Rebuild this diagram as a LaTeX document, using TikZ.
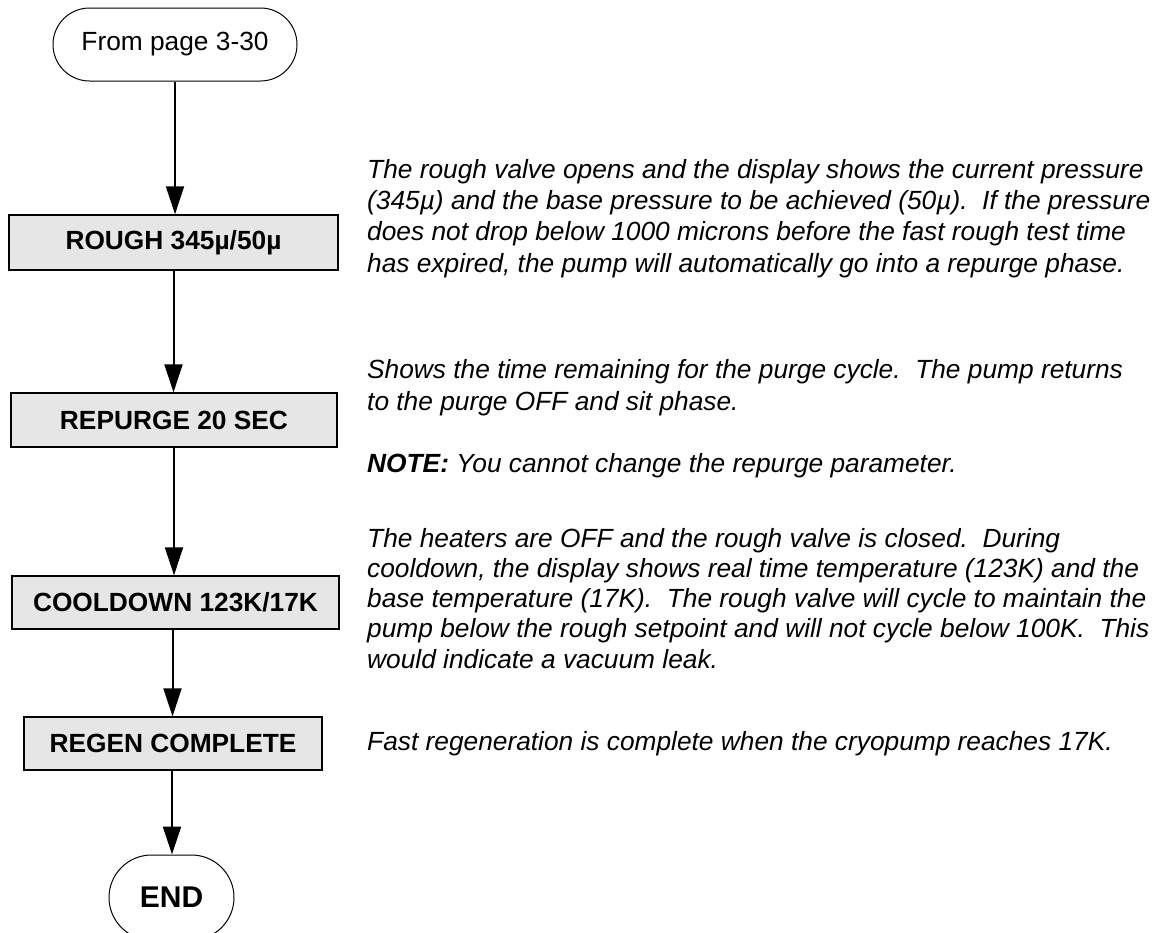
\documentclass[tikz,border=0pt]{standalone}
\usepackage{fontspec}
\setmainfont{Liberation Sans}
\usetikzlibrary{arrows.meta,shapes.misc}
\definecolor{boxgray}{RGB}{230,230,230}
\begin{document}
\begin{tikzpicture}[x=1pt,y=-1pt,
  stepbox/.style={draw, line width=1.3pt, fill=boxgray, minimum width=328pt, minimum height=55pt, inner sep=0pt, font=\fontsize{26.3}{31}\selectfont\bfseries},
  term/.style={draw, line width=1pt, rounded rectangle, inner sep=0pt},
  flow/.style={line width=2pt, -{Triangle[length=28pt,width=18pt]}},
  note/.style={anchor=base west, align=left, inner sep=0pt, font=\fontsize{26.3}{31.3}\selectfont\itshape}]
\useasboundingbox (0,0) rectangle (1155,932);
\clip (0,0) rectangle (1155,932);

\node[term, minimum width=244pt, minimum height=73pt, font=\fontsize{26.3}{31}\selectfont] (start) at (175,44.5) {From page 3-30};
\node[stepbox, minimum width=329pt] (rough) at (173.5,242.5) {ROUGH 345µ/50µ};
\node[stepbox, minimum width=326pt, minimum height=54pt] (repurge) at (174,420) {REPURGE 20 SEC};
\node[stepbox, minimum width=327pt, minimum height=53pt] (cool) at (175.5,602.5) {COOLDOWN 123K/17K};
\node[stepbox, minimum width=298pt, minimum height=53pt] (regen) at (173,743.5) {REGEN COMPLETE};
\node[term, minimum width=125pt, minimum height=85pt, font=\fontsize{30}{34}\selectfont\bfseries] (end) at (171.5,897.5) {END};

\draw[flow] (start.south) -- (start.south |- rough.north);
\draw[flow] (rough.south) -- (rough.south |- repurge.north);
\draw[flow] (repurge.south) -- (repurge.south |- cool.north);
\draw[flow] ([xshift=-3pt]cool.south) -- ([xshift=-3pt]cool.south |- regen.north);
\draw[flow] ([xshift=-1pt]regen.south) -- ([xshift=-1pt]regen.south |- end.north);

\node[note] (d1) at (367,272) {The rough valve opens and the display shows the current pressure\\(345µ) and the base pressure to be achieved (50µ).\ \ If the pressure\\does not drop below 1000 microns before the fast rough test time\\has expired, the pump will automatically go into a repurge phase.};
\node[note, font=\fontsize{26.3}{32}\selectfont\itshape] (d2) at (367,410) {Shows the time remaining for the purge cycle.\ \ The pump returns\\to the purge OFF and sit phase.};
\node[note] (d3) at (367,472) {{\bfseries NOTE:} You cannot change the repurge parameter.};
\node[note, font=\fontsize{26.3}{30.25}\selectfont\itshape] (d4) at (367,668) {The heaters are OFF and the rough valve is closed.\ \ During\\cooldown, the display shows real time temperature (123K) and the\\base temperature (17K).\ \ The rough valve will cycle to maintain the\\pump below the rough setpoint and will not cycle below 100K.\ \ This\\would indicate a vacuum leak.};
\node[note] (d5) at (367,750) {Fast regeneration is complete when the cryopump reaches 17K.};
\end{tikzpicture}
\end{document}
